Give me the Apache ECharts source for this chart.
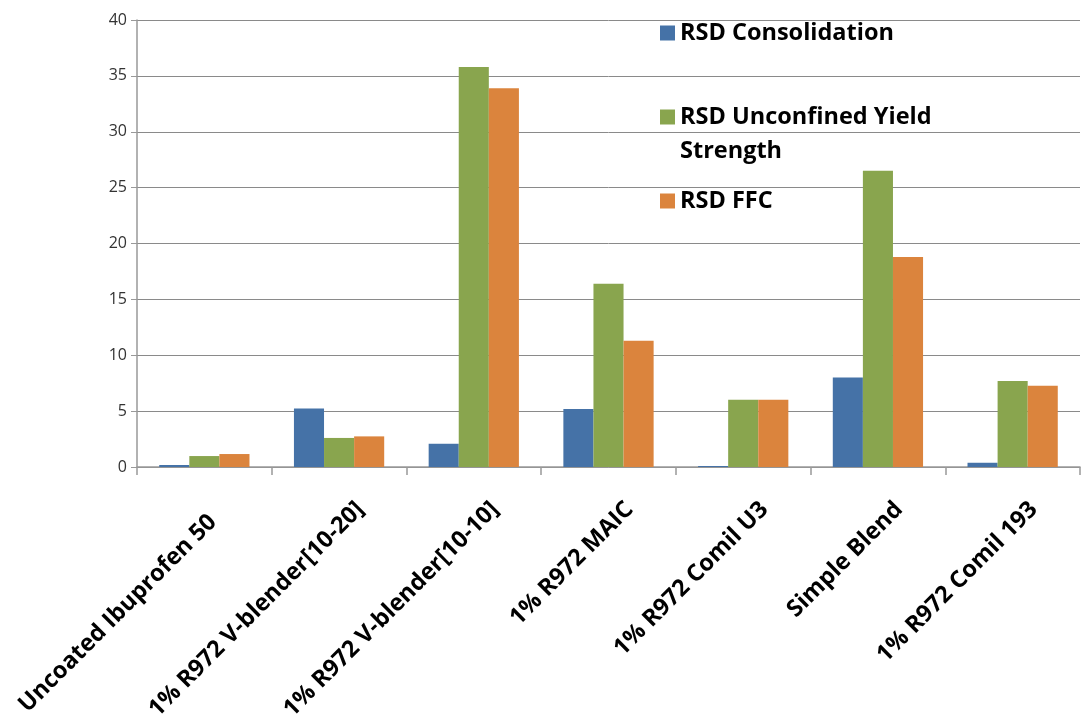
<!DOCTYPE html>
<html><head><meta charset="utf-8">
<script src="https://cdn.jsdelivr.net/npm/echarts@6/dist/echarts.min.js"></script>
<style>html,body{margin:0;padding:0;background:#fff}#c{width:1091px;height:728px}</style>
</head><body><div id="c"></div>
<script>
const categories = ["Uncoated Ibuprofen 50","1% R972 V-blender[10-20]","1% R972 V-blender[10-10]","1% R972 MAIC","1% R972 Comil U3","Simple Blend","1% R972 Comil 193"];
const seriesNames = ["RSD Consolidation","RSD Unconfined Yield Strength","RSD FFC"];
const consolidation = [0.18, 5.24, 2.08, 5.19, 0.09, 8.0, 0.38];
const uys = [0.98, 2.6, 35.8, 16.4, 6.02, 26.5, 7.7];
const ffc = [1.16, 2.74, 33.9, 11.3, 6.02, 18.8, 7.27];
const yTicks = {min:0, max:40, interval:5};
const colors = ["#4572A7","#89A54E","#DB843D"];
const font = "'Open Sans', 'Liberation Sans', sans-serif";

const chart = echarts.init(document.getElementById('c'), null, {renderer:'canvas'});
const legendBase = {orient:'vertical', left:655, itemWidth:15, itemHeight:15, itemGap:0,
  icon:'rect', textStyle:{fontFamily:font, fontWeight:'bold', fontSize:23.5, color:'#000', lineHeight:34},
  formatter: n => n === seriesNames[1] ? ' \nRSD Unconfined Yield\nStrength' : n, selectedMode:false};
const lblStyle = {fontFamily:font, fontWeight:'bold', fontSize:23.5, color:'#000'};
chart.setOption({
  animation:false,
  color: colors,
  legend:[
    Object.assign({}, legendBase, {top:11, data:[seriesNames[0]]}),
    Object.assign({}, legendBase, {top:61, data:[seriesNames[1]]}),
    Object.assign({}, legendBase, {top:179, data:[seriesNames[2]]})
  ],
  grid:{left:137, right:11, top:20, bottom:261, containLabel:false},
  xAxis:{type:'category', data:categories,
    axisLine:{lineStyle:{color:'#999', width:1.5}},
    axisTick:{show:true, length:8, lineStyle:{color:'#999', width:1.5}},
    axisLabel:{rotate:45, interval:0, margin:60,
      formatter:(v, i) => i === 0 ? '{a|' + v + '}' : '{b|' + v + '}',
      rich:{a:Object.assign({padding:[0,-12,0,0]}, lblStyle), b:Object.assign({padding:[0,-30,0,0]}, lblStyle)}}},
  yAxis:{type:'value', min:yTicks.min, max:yTicks.max, interval:yTicks.interval,
    axisLine:{show:true, lineStyle:{color:'#999', width:1.5}},
    axisTick:{show:true, length:6, lineStyle:{color:'#999'}},
    splitLine:{lineStyle:{color:'#8a8a8a', width:1}},
    axisLabel:{fontFamily:font, fontSize:16, color:'#333', margin:10}},
  series:[
    {name:seriesNames[0], type:'bar', data:consolidation, barGap:'0%', barCategoryGap:'33%'},
    {name:seriesNames[1], type:'bar', data:uys, barGap:'0%', barCategoryGap:'33%'},
    {name:seriesNames[2], type:'bar', data:ffc, barGap:'0%', barCategoryGap:'33%'}
  ]
});
</script></body></html>
